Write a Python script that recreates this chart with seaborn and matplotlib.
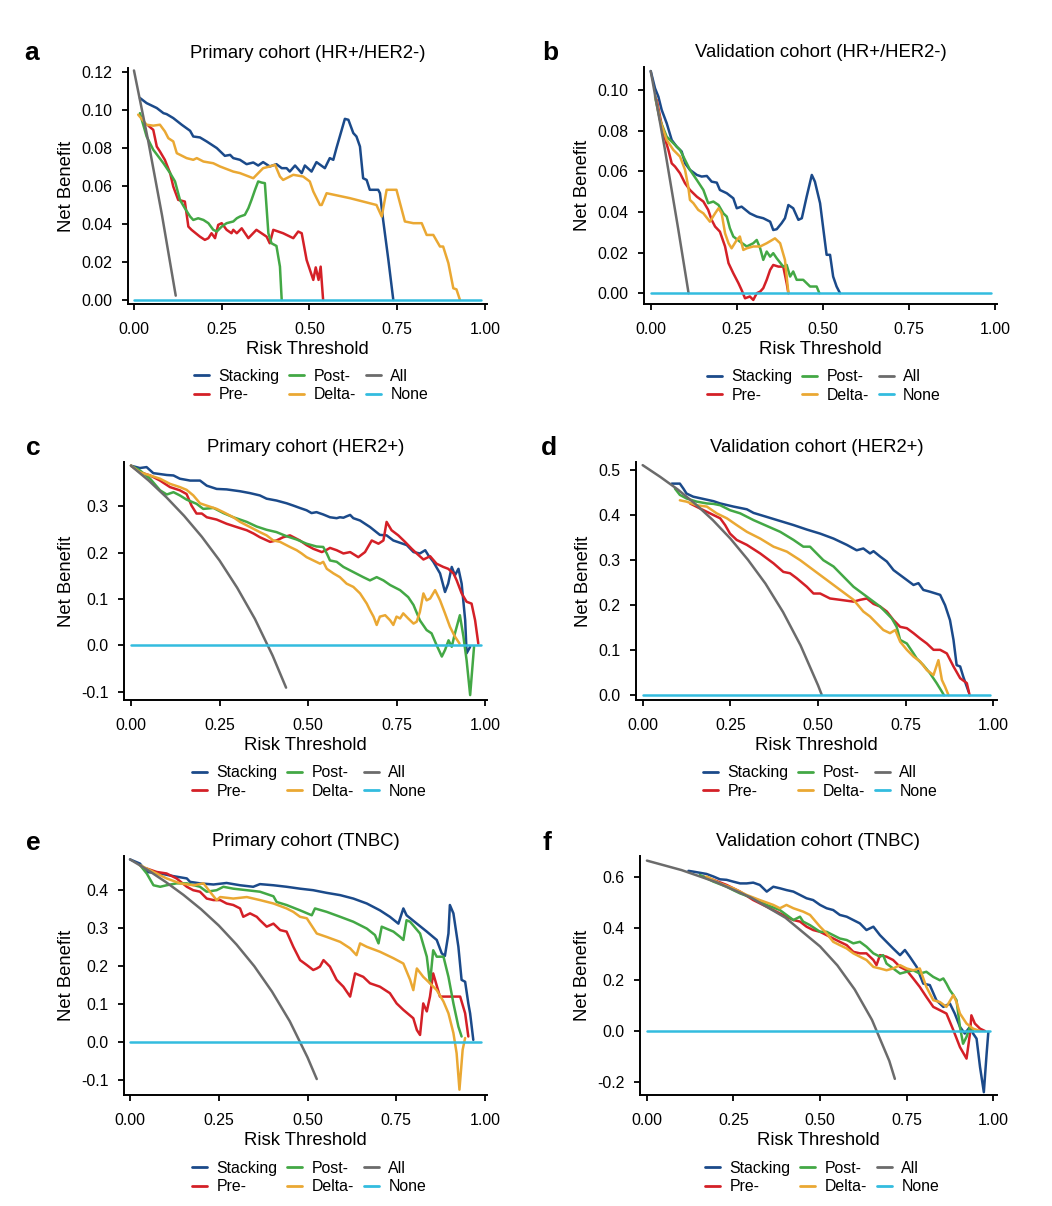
import numpy as np
import pandas as pd
import matplotlib
matplotlib.use("Agg")
import matplotlib.pyplot as plt
import seaborn as sns

sns.set_theme(style="ticks")
plt.rcParams['font.family'] = ['Liberation Sans', 'DejaVu Sans']
plt.rcParams['text.color'] = 'black'
plt.rcParams['axes.labelcolor'] = 'black'

models = ["Stacking", "Pre-", "Post-", "Delta-", "All", "None"]
colors = ["#1b4a8a", "#d42027", "#43a845", "#eaa833", "#6b6b6b", "#33bcdf"]

# ---------------- panel a : Primary cohort (HR+/HER2-) ----------------
a_stacking = [(0.017, 0.1065), (0.036, 0.1038), (0.065, 0.1012), (0.084, 0.0985), (0.093, 0.098),
              (0.112, 0.0959), (0.136, 0.0924), (0.160, 0.0892), (0.169, 0.0862), (0.188, 0.0857),
              (0.207, 0.0836), (0.236, 0.0801), (0.259, 0.076), (0.274, 0.0765), (0.283, 0.0748),
              (0.302, 0.0739), (0.321, 0.0716), (0.340, 0.0725), (0.354, 0.0709), (0.368, 0.0727),
              (0.387, 0.0704), (0.406, 0.0716), (0.421, 0.0695), (0.435, 0.0695), (0.444, 0.0677),
              (0.459, 0.0709), (0.478, 0.0669), (0.487, 0.0709), (0.506, 0.0677), (0.520, 0.0727),
              (0.544, 0.0695), (0.558, 0.0748), (0.568, 0.0739), (0.577, 0.0801), (0.592, 0.0897),
              (0.601, 0.0955), (0.611, 0.095), (0.625, 0.088), (0.634, 0.0862), (0.644, 0.0809),
              (0.653, 0.0642), (0.663, 0.0633), (0.672, 0.0581), (0.696, 0.0581), (0.701, 0.0563),
              (0.710, 0.0422), (0.725, 0.0211), (0.739, 0.0)]
a_pre = [(0.041, 0.0919), (0.055, 0.0897), (0.065, 0.0809), (0.074, 0.0783), (0.088, 0.0739),
         (0.103, 0.0669), (0.112, 0.0598), (0.126, 0.0528), (0.145, 0.0519), (0.155, 0.0387),
         (0.164, 0.037), (0.188, 0.0334), (0.202, 0.0317), (0.212, 0.0326), (0.221, 0.0352),
         (0.231, 0.0326), (0.240, 0.0396), (0.250, 0.0405), (0.264, 0.037), (0.278, 0.0352),
         (0.283, 0.037), (0.293, 0.0352), (0.307, 0.0378), (0.326, 0.0326), (0.349, 0.037),
         (0.378, 0.0334), (0.387, 0.0299), (0.397, 0.037), (0.425, 0.0352), (0.454, 0.0326),
         (0.468, 0.0361), (0.478, 0.0352), (0.492, 0.0211), (0.511, 0.0106), (0.518, 0.0172),
         (0.526, 0.0106), (0.532, 0.0176), (0.539, 0.0)]
a_post = [(0.017, 0.0985), (0.036, 0.0862), (0.055, 0.0792), (0.084, 0.0721), (0.103, 0.0669),
          (0.117, 0.0625), (0.131, 0.0528), (0.145, 0.0484), (0.160, 0.044), (0.169, 0.0422),
          (0.183, 0.0431), (0.198, 0.0422), (0.212, 0.0405), (0.226, 0.037), (0.236, 0.0361),
          (0.250, 0.0387), (0.264, 0.0405), (0.283, 0.0414), (0.293, 0.0431), (0.302, 0.044),
          (0.316, 0.0449), (0.326, 0.0484), (0.335, 0.0528), (0.345, 0.0581), (0.354, 0.0625),
          (0.364, 0.0619), (0.373, 0.0616), (0.383, 0.0352), (0.392, 0.0299), (0.406, 0.0285),
          (0.416, 0.0176), (0.421, 0.0)]
a_delta = [(0.012, 0.0977), (0.036, 0.0924), (0.055, 0.0919), (0.074, 0.0924), (0.088, 0.0889),
           (0.098, 0.0853), (0.112, 0.0836), (0.122, 0.0774), (0.150, 0.0748), (0.169, 0.0739),
           (0.179, 0.0748), (0.198, 0.073), (0.226, 0.0721), (0.245, 0.0704), (0.283, 0.0677),
           (0.302, 0.0669), (0.340, 0.0642), (0.368, 0.0695), (0.387, 0.0704), (0.402, 0.0713),
           (0.416, 0.0651), (0.425, 0.0633), (0.454, 0.066), (0.482, 0.0651), (0.501, 0.0625),
           (0.511, 0.0572), (0.530, 0.0501), (0.535, 0.0501), (0.549, 0.0563), (0.615, 0.0537),
           (0.691, 0.0501), (0.706, 0.044), (0.720, 0.0581), (0.748, 0.0581), (0.772, 0.0414),
           (0.796, 0.0405), (0.820, 0.0405), (0.834, 0.0343), (0.853, 0.0343), (0.872, 0.0282),
           (0.881, 0.0282), (0.896, 0.0194), (0.910, 0.0062), (0.919, 0.0056), (0.929, 0.0)]
a_all = [(0.0, 0.121), (0.04, 0.0844), (0.08, 0.0446), (0.119, 0.0023)]
a_none = [(0.0, 0.0), (0.99, 0.0)]

# ---------------- panel b : Validation cohort (HR+/HER2-) ----------------
b_stacking = [(0.0, 0.1093), (0.0126, 0.1008), (0.0223, 0.0967), (0.0319, 0.0902), (0.0465, 0.0836),
              (0.061, 0.0754), (0.0755, 0.0721), (0.09, 0.0697), (0.0997, 0.0639), (0.114, 0.0607),
              (0.134, 0.0582), (0.148, 0.0574), (0.163, 0.0577), (0.177, 0.0549), (0.192, 0.0544),
              (0.201, 0.0508), (0.221, 0.0492), (0.240, 0.0467), (0.250, 0.0418), (0.264, 0.0426),
              (0.288, 0.0393), (0.308, 0.0377), (0.327, 0.0369), (0.347, 0.0352), (0.356, 0.0311),
              (0.366, 0.0315), (0.380, 0.0344), (0.390, 0.0369), (0.400, 0.0434), (0.414, 0.0418),
              (0.429, 0.0361), (0.439, 0.0369), (0.453, 0.0475), (0.468, 0.0582), (0.477, 0.0549),
              (0.492, 0.0443), (0.503, 0.0295), (0.511, 0.0189), (0.521, 0.0189), (0.530, 0.0082),
              (0.540, 0.0033), (0.550, 0.0)]
b_pre = [(0.0174, 0.0951), (0.0368, 0.0787), (0.0513, 0.0705), (0.061, 0.0639), (0.0707, 0.0623),
         (0.0852, 0.059), (0.0997, 0.0541), (0.114, 0.0508), (0.134, 0.0475), (0.153, 0.0451),
         (0.167, 0.041), (0.177, 0.0361), (0.187, 0.0328), (0.201, 0.0303), (0.216, 0.023),
         (0.226, 0.0148), (0.240, 0.0098), (0.255, 0.0049), (0.264, 0.0016), (0.274, -0.0025),
         (0.288, -0.0016), (0.298, -0.0033), (0.308, 0.0), (0.318, 0.0008), (0.327, 0.0025),
         (0.337, 0.0066), (0.347, 0.0115), (0.356, 0.0139), (0.371, 0.0131), (0.385, 0.0131),
         (0.395, 0.0049), (0.400, 0.0)]
b_post = [(0.0126, 0.0967), (0.0271, 0.0852), (0.0465, 0.077), (0.0658, 0.0738), (0.0852, 0.0705),
          (0.0997, 0.0656), (0.114, 0.0607), (0.134, 0.0557), (0.153, 0.0508), (0.167, 0.0443),
          (0.182, 0.0451), (0.197, 0.0434), (0.211, 0.0393), (0.221, 0.0377), (0.230, 0.032),
          (0.240, 0.0279), (0.259, 0.0254), (0.279, 0.023), (0.298, 0.0246), (0.308, 0.0262),
          (0.318, 0.0221), (0.327, 0.0164), (0.337, 0.0205), (0.347, 0.018), (0.356, 0.0197),
          (0.366, 0.0172), (0.385, 0.0131), (0.395, 0.0139), (0.405, 0.0082), (0.414, 0.0107),
          (0.424, 0.0066), (0.443, 0.0066), (0.463, 0.0033), (0.482, 0.0033), (0.490, 0.0)]
b_delta = [(0.0126, 0.0975), (0.0271, 0.0852), (0.0465, 0.0754), (0.0658, 0.0705), (0.0852, 0.0672),
           (0.0997, 0.0607), (0.109, 0.0525), (0.114, 0.0459), (0.124, 0.0443), (0.138, 0.041),
           (0.153, 0.0393), (0.172, 0.0352), (0.187, 0.0393), (0.197, 0.0418), (0.206, 0.0393),
           (0.216, 0.0295), (0.226, 0.0246), (0.235, 0.0221), (0.250, 0.0262), (0.259, 0.0279),
           (0.269, 0.0213), (0.279, 0.0221), (0.298, 0.023), (0.318, 0.023), (0.337, 0.0246),
           (0.361, 0.027), (0.376, 0.0246), (0.390, 0.0164), (0.395, 0.0082), (0.400, 0.0)]
b_all = [(0.0, 0.1093), (0.04, 0.0719), (0.08, 0.0315), (0.110, 0.0)]
b_none = [(0.0, 0.0), (0.99, 0.0)]

# ---------------- panel c : Primary cohort (HER2+) ----------------
c_stacking = [(0.0, 0.387), (0.025, 0.382), (0.044, 0.384), (0.063, 0.371), (0.082, 0.369),
              (0.101, 0.367), (0.120, 0.366), (0.138, 0.359), (0.167, 0.355), (0.195, 0.355),
              (0.214, 0.344), (0.242, 0.337), (0.270, 0.336), (0.308, 0.332), (0.336, 0.328),
              (0.364, 0.323), (0.383, 0.316), (0.411, 0.312), (0.440, 0.306), (0.459, 0.301),
              (0.477, 0.296), (0.496, 0.291), (0.510, 0.285), (0.524, 0.287), (0.543, 0.282),
              (0.562, 0.276), (0.581, 0.274), (0.590, 0.276), (0.600, 0.275), (0.609, 0.278),
              (0.619, 0.281), (0.628, 0.274), (0.647, 0.269), (0.675, 0.255), (0.703, 0.238),
              (0.722, 0.237), (0.741, 0.226), (0.760, 0.221), (0.779, 0.216), (0.798, 0.201),
              (0.816, 0.198), (0.831, 0.205), (0.840, 0.194), (0.854, 0.180), (0.873, 0.155),
              (0.887, 0.115), (0.896, 0.133), (0.906, 0.169), (0.915, 0.151), (0.925, 0.165),
              (0.934, 0.133), (0.944, 0.054), (0.948, -0.017), (0.958, -0.003)]
c_pre = [(0.0, 0.387), (0.025, 0.373), (0.054, 0.366), (0.082, 0.355), (0.110, 0.341), (0.138, 0.334),
         (0.157, 0.326), (0.171, 0.301), (0.185, 0.284), (0.200, 0.284), (0.214, 0.276),
         (0.242, 0.271), (0.270, 0.262), (0.298, 0.255), (0.327, 0.248), (0.346, 0.241),
         (0.364, 0.233), (0.393, 0.223), (0.411, 0.226), (0.430, 0.233), (0.449, 0.237),
         (0.477, 0.226), (0.496, 0.216), (0.515, 0.208), (0.539, 0.201), (0.553, 0.206),
         (0.562, 0.210), (0.581, 0.205), (0.600, 0.198), (0.619, 0.201), (0.642, 0.190),
         (0.661, 0.201), (0.680, 0.226), (0.699, 0.219), (0.713, 0.226), (0.722, 0.266),
         (0.736, 0.248), (0.755, 0.237), (0.774, 0.223), (0.793, 0.208), (0.807, 0.198),
         (0.826, 0.185), (0.845, 0.192), (0.863, 0.176), (0.882, 0.169), (0.896, 0.165),
         (0.911, 0.155), (0.920, 0.140), (0.934, 0.112), (0.948, 0.094), (0.962, 0.090),
         (0.972, 0.054), (0.981, 0.004)]
c_post = [(0.0, 0.387), (0.025, 0.377), (0.054, 0.359), (0.082, 0.334), (0.101, 0.325), (0.120, 0.330),
          (0.138, 0.323), (0.157, 0.314), (0.185, 0.305), (0.204, 0.294), (0.233, 0.296),
          (0.261, 0.285), (0.289, 0.276), (0.327, 0.266), (0.355, 0.256), (0.383, 0.249),
          (0.411, 0.244), (0.440, 0.235), (0.468, 0.228), (0.496, 0.219), (0.524, 0.213),
          (0.543, 0.212), (0.553, 0.198), (0.562, 0.183), (0.581, 0.180), (0.600, 0.169),
          (0.628, 0.158), (0.656, 0.147), (0.675, 0.140), (0.694, 0.147), (0.713, 0.140),
          (0.732, 0.130), (0.760, 0.119), (0.783, 0.104), (0.798, 0.087), (0.816, 0.054),
          (0.835, 0.033), (0.849, 0.026), (0.863, 0.001), (0.878, -0.024), (0.887, -0.010),
          (0.897, 0.011), (0.906, -0.003), (0.915, 0.026), (0.929, 0.065), (0.939, 0.019),
          (0.948, -0.032), (0.958, -0.107), (0.969, -0.003)]
c_delta = [(0.0, 0.387), (0.025, 0.373), (0.054, 0.366), (0.082, 0.359), (0.110, 0.348), (0.138, 0.341),
           (0.157, 0.335), (0.176, 0.323), (0.195, 0.306), (0.214, 0.301), (0.242, 0.294),
           (0.261, 0.287), (0.289, 0.276), (0.308, 0.266), (0.336, 0.255), (0.364, 0.244),
           (0.383, 0.237), (0.402, 0.226), (0.421, 0.223), (0.449, 0.212), (0.468, 0.205),
           (0.482, 0.198), (0.496, 0.190), (0.515, 0.183), (0.534, 0.176), (0.543, 0.180),
           (0.553, 0.165), (0.572, 0.155), (0.590, 0.147), (0.609, 0.133), (0.628, 0.126),
           (0.647, 0.112), (0.666, 0.090), (0.675, 0.076), (0.685, 0.062), (0.694, 0.044),
           (0.703, 0.062), (0.718, 0.065), (0.732, 0.054), (0.741, 0.044), (0.750, 0.062),
           (0.760, 0.058), (0.769, 0.069), (0.783, 0.058), (0.798, 0.047), (0.807, 0.051),
           (0.816, 0.072), (0.826, 0.112), (0.835, 0.097), (0.845, 0.101), (0.859, 0.119),
           (0.873, 0.097), (0.887, 0.069), (0.901, 0.040), (0.915, 0.019), (0.928, 0.004)]
c_all = [(0.0, 0.387), (0.05, 0.355), (0.1, 0.319), (0.15, 0.279), (0.2, 0.234), (0.25, 0.183),
         (0.3, 0.124), (0.35, 0.057), (0.4, -0.022), (0.438, -0.091)]
c_none = [(0.0, 0.0), (0.99, 0.0)]

# ---------------- panel d : Validation cohort (HER2+) ----------------
d_stacking = [(0.083, 0.470), (0.106, 0.470), (0.116, 0.459), (0.125, 0.448), (0.144, 0.441),
              (0.173, 0.436), (0.202, 0.431), (0.221, 0.426), (0.259, 0.419), (0.297, 0.413),
              (0.316, 0.405), (0.354, 0.396), (0.392, 0.387), (0.430, 0.378), (0.468, 0.368),
              (0.506, 0.359), (0.544, 0.348), (0.582, 0.334), (0.610, 0.322), (0.629, 0.326),
              (0.648, 0.315), (0.658, 0.320), (0.677, 0.308), (0.696, 0.297), (0.715, 0.278),
              (0.734, 0.267), (0.753, 0.256), (0.772, 0.245), (0.786, 0.249), (0.800, 0.234),
              (0.819, 0.230), (0.848, 0.223), (0.862, 0.200), (0.876, 0.167), (0.886, 0.123),
              (0.895, 0.067), (0.905, 0.064), (0.914, 0.041), (0.929, 0.008)]
d_pre = [(0.135, 0.426), (0.163, 0.415), (0.192, 0.404), (0.221, 0.393), (0.235, 0.378),
         (0.249, 0.359), (0.268, 0.345), (0.297, 0.334), (0.335, 0.315), (0.373, 0.293),
         (0.401, 0.274), (0.420, 0.271), (0.439, 0.260), (0.468, 0.241), (0.487, 0.226),
         (0.506, 0.226), (0.534, 0.215), (0.563, 0.212), (0.601, 0.208), (0.620, 0.212),
         (0.639, 0.215), (0.658, 0.203), (0.677, 0.197), (0.696, 0.186), (0.715, 0.167),
         (0.734, 0.152), (0.753, 0.149), (0.772, 0.138), (0.791, 0.126), (0.810, 0.115),
         (0.829, 0.101), (0.848, 0.101), (0.867, 0.093), (0.886, 0.064), (0.905, 0.038),
         (0.924, 0.027), (0.932, 0.0)]
d_post = [(0.092, 0.459), (0.106, 0.445), (0.125, 0.437), (0.154, 0.430), (0.183, 0.426),
          (0.202, 0.425), (0.221, 0.422), (0.249, 0.411), (0.278, 0.404), (0.316, 0.389),
          (0.354, 0.376), (0.392, 0.363), (0.430, 0.345), (0.458, 0.330), (0.477, 0.330),
          (0.496, 0.315), (0.515, 0.300), (0.544, 0.286), (0.563, 0.271), (0.582, 0.256),
          (0.601, 0.241), (0.620, 0.230), (0.639, 0.219), (0.658, 0.208), (0.677, 0.197),
          (0.696, 0.182), (0.710, 0.171), (0.724, 0.152), (0.734, 0.123), (0.753, 0.115),
          (0.772, 0.093), (0.781, 0.082), (0.800, 0.067), (0.819, 0.049), (0.838, 0.027),
          (0.853, 0.008), (0.859, 0.0)]
d_delta = [(0.106, 0.433), (0.125, 0.430), (0.154, 0.422), (0.183, 0.419), (0.211, 0.404),
           (0.240, 0.393), (0.268, 0.378), (0.297, 0.363), (0.335, 0.348), (0.373, 0.330),
           (0.411, 0.319), (0.449, 0.300), (0.487, 0.278), (0.525, 0.256), (0.563, 0.234),
           (0.601, 0.212), (0.629, 0.186), (0.648, 0.175), (0.667, 0.160), (0.686, 0.145),
           (0.705, 0.138), (0.720, 0.145), (0.734, 0.119), (0.753, 0.101), (0.772, 0.086),
           (0.791, 0.075), (0.810, 0.056), (0.829, 0.045), (0.843, 0.078), (0.853, 0.034),
           (0.862, 0.019), (0.872, 0.0)]
d_all = [(0.0, 0.511), (0.05, 0.485), (0.1, 0.457), (0.15, 0.425), (0.2, 0.389), (0.25, 0.348),
         (0.3, 0.301), (0.35, 0.248), (0.4, 0.185), (0.45, 0.111), (0.5, 0.022), (0.51, 0.002)]
d_none = [(0.0, 0.0), (0.99, 0.0)]

# ---------------- panel e : Primary cohort (TNBC) ----------------
e_stacking = [(0.0, 0.481), (0.028, 0.470), (0.047, 0.448), (0.085, 0.444), (0.122, 0.437),
              (0.160, 0.431), (0.169, 0.422), (0.197, 0.418), (0.235, 0.415), (0.272, 0.419),
              (0.310, 0.413), (0.347, 0.409), (0.366, 0.416), (0.404, 0.413), (0.441, 0.409),
              (0.479, 0.404), (0.516, 0.400), (0.554, 0.393), (0.592, 0.387), (0.629, 0.378),
              (0.667, 0.365), (0.704, 0.347), (0.732, 0.330), (0.756, 0.312), (0.770, 0.352),
              (0.779, 0.334), (0.808, 0.312), (0.836, 0.291), (0.864, 0.269), (0.878, 0.234),
              (0.887, 0.227), (0.897, 0.286), (0.901, 0.361), (0.911, 0.339), (0.925, 0.251),
              (0.934, 0.164), (0.944, 0.159), (0.953, 0.102), (0.958, 0.076), (0.967, 0.006)]
e_pre = [(0.047, 0.457), (0.075, 0.448), (0.103, 0.444), (0.131, 0.431), (0.160, 0.409),
         (0.178, 0.400), (0.197, 0.396), (0.216, 0.378), (0.235, 0.374), (0.254, 0.374),
         (0.272, 0.365), (0.291, 0.361), (0.310, 0.352), (0.319, 0.330), (0.338, 0.339),
         (0.357, 0.330), (0.366, 0.321), (0.385, 0.304), (0.404, 0.312), (0.423, 0.295),
         (0.441, 0.291), (0.460, 0.251), (0.479, 0.216), (0.498, 0.203), (0.516, 0.190),
         (0.526, 0.194), (0.535, 0.199), (0.545, 0.216), (0.563, 0.199), (0.582, 0.164),
         (0.601, 0.146), (0.620, 0.120), (0.634, 0.181), (0.657, 0.172), (0.676, 0.155),
         (0.704, 0.146), (0.732, 0.129), (0.751, 0.102), (0.770, 0.085), (0.798, 0.063),
         (0.808, 0.032), (0.817, 0.019), (0.826, 0.102), (0.836, 0.081), (0.845, 0.120),
         (0.854, 0.181), (0.873, 0.120), (0.930, 0.120), (0.944, 0.076), (0.953, 0.015)]
e_post = [(0.028, 0.466), (0.047, 0.444), (0.066, 0.413), (0.085, 0.409), (0.103, 0.413),
          (0.131, 0.418), (0.160, 0.418), (0.197, 0.409), (0.216, 0.396), (0.244, 0.400),
          (0.263, 0.409), (0.291, 0.404), (0.329, 0.400), (0.366, 0.396), (0.404, 0.384),
          (0.413, 0.369), (0.441, 0.361), (0.479, 0.347), (0.512, 0.334), (0.521, 0.352),
          (0.554, 0.343), (0.592, 0.330), (0.629, 0.317), (0.667, 0.299), (0.690, 0.282),
          (0.700, 0.260), (0.709, 0.304), (0.742, 0.291), (0.761, 0.277), (0.770, 0.269),
          (0.779, 0.321), (0.789, 0.317), (0.817, 0.286), (0.836, 0.225), (0.845, 0.155),
          (0.854, 0.242), (0.864, 0.225), (0.883, 0.225), (0.897, 0.172), (0.911, 0.102),
          (0.925, 0.041), (0.934, 0.015)]
e_delta = [(0.028, 0.466), (0.066, 0.448), (0.103, 0.431), (0.141, 0.418), (0.178, 0.413),
           (0.207, 0.418), (0.225, 0.396), (0.244, 0.374), (0.254, 0.382), (0.291, 0.378),
           (0.329, 0.382), (0.366, 0.374), (0.404, 0.365), (0.441, 0.352), (0.460, 0.343),
           (0.479, 0.330), (0.498, 0.326), (0.526, 0.286), (0.554, 0.277), (0.592, 0.264),
           (0.620, 0.247), (0.638, 0.229), (0.648, 0.260), (0.667, 0.251), (0.704, 0.238),
           (0.742, 0.221), (0.770, 0.207), (0.789, 0.164), (0.798, 0.137), (0.808, 0.194),
           (0.826, 0.172), (0.845, 0.155), (0.864, 0.137), (0.883, 0.107), (0.897, 0.076),
           (0.911, 0.024), (0.920, -0.029), (0.928, -0.125), (0.937, -0.020), (0.944, 0.011)]
e_all = [(0.0, 0.481), (0.05, 0.453), (0.1, 0.422), (0.15, 0.388), (0.2, 0.350), (0.25, 0.307),
         (0.3, 0.257), (0.35, 0.200), (0.4, 0.133), (0.45, 0.055), (0.5, -0.040), (0.526, -0.097)]
e_none = [(0.0, 0.0), (0.99, 0.0)]

# ---------------- panel f : Validation cohort (TNBC) ----------------
f_stacking = [(0.120, 0.625), (0.134, 0.622), (0.172, 0.613), (0.192, 0.603), (0.211, 0.592), (0.230, 0.590),
              (0.249, 0.583), (0.269, 0.576), (0.288, 0.576), (0.307, 0.579), (0.326, 0.570),
              (0.346, 0.544), (0.365, 0.563), (0.384, 0.557), (0.403, 0.550), (0.423, 0.544),
              (0.442, 0.531), (0.461, 0.518), (0.480, 0.511), (0.500, 0.492), (0.519, 0.479),
              (0.538, 0.472), (0.557, 0.453), (0.577, 0.446), (0.596, 0.433), (0.615, 0.420),
              (0.634, 0.394), (0.654, 0.407), (0.673, 0.374), (0.692, 0.348), (0.711, 0.322),
              (0.731, 0.296), (0.745, 0.316), (0.759, 0.290), (0.779, 0.250), (0.798, 0.185),
              (0.817, 0.179), (0.836, 0.120), (0.856, 0.094), (0.875, 0.107), (0.889, 0.068),
              (0.904, 0.016), (0.918, -0.010), (0.933, 0.016), (0.942, -0.010), (0.952, -0.030),
              (0.962, -0.141), (0.973, -0.239), (0.981, -0.089), (0.986, -0.004)]
f_pre = [(0.163, 0.603), (0.192, 0.590), (0.230, 0.570), (0.269, 0.544), (0.307, 0.511),
         (0.346, 0.485), (0.384, 0.459), (0.423, 0.433), (0.442, 0.427), (0.461, 0.407),
         (0.480, 0.394), (0.500, 0.387), (0.519, 0.374), (0.538, 0.361), (0.557, 0.348),
         (0.577, 0.335), (0.596, 0.309), (0.615, 0.303), (0.634, 0.303), (0.654, 0.277),
         (0.663, 0.257), (0.673, 0.296), (0.692, 0.290), (0.711, 0.277), (0.731, 0.250),
         (0.750, 0.237), (0.769, 0.205), (0.788, 0.172), (0.807, 0.133), (0.827, 0.094),
         (0.846, 0.081), (0.865, 0.068), (0.885, 0.003), (0.904, -0.063), (0.923, -0.108),
         (0.933, -0.010), (0.937, 0.061), (0.947, 0.029), (0.962, 0.009), (0.976, 0.0)]
f_post = [(0.153, 0.609), (0.192, 0.583), (0.230, 0.563), (0.249, 0.550), (0.269, 0.537),
          (0.307, 0.518), (0.346, 0.492), (0.384, 0.472), (0.403, 0.453), (0.423, 0.433),
          (0.442, 0.446), (0.451, 0.427), (0.471, 0.413), (0.500, 0.387), (0.519, 0.387),
          (0.538, 0.374), (0.557, 0.361), (0.577, 0.355), (0.596, 0.342), (0.615, 0.348),
          (0.634, 0.329), (0.654, 0.303), (0.673, 0.290), (0.682, 0.296), (0.692, 0.263),
          (0.711, 0.244), (0.731, 0.224), (0.750, 0.231), (0.769, 0.237), (0.788, 0.224),
          (0.807, 0.231), (0.827, 0.211), (0.846, 0.198), (0.856, 0.205), (0.865, 0.185),
          (0.875, 0.159), (0.885, 0.140), (0.894, 0.120), (0.904, 0.016), (0.913, -0.050),
          (0.923, -0.023), (0.933, 0.016), (0.942, 0.003)]
f_delta = [(0.172, 0.603), (0.211, 0.576), (0.249, 0.557), (0.288, 0.531), (0.326, 0.511),
           (0.365, 0.492), (0.384, 0.479), (0.403, 0.492), (0.423, 0.479), (0.451, 0.466),
           (0.471, 0.453), (0.500, 0.407), (0.519, 0.381), (0.538, 0.348), (0.557, 0.335),
           (0.577, 0.322), (0.596, 0.303), (0.615, 0.290), (0.634, 0.277), (0.654, 0.250),
           (0.673, 0.244), (0.692, 0.237), (0.711, 0.244), (0.731, 0.257), (0.750, 0.244),
           (0.769, 0.237), (0.788, 0.244), (0.807, 0.172), (0.827, 0.120), (0.846, 0.113),
           (0.865, 0.094), (0.885, 0.140), (0.894, 0.113), (0.904, 0.068), (0.923, 0.029),
           (0.942, 0.009), (0.962, 0.0)]
f_all = [(0.0, 0.665), (0.1, 0.628), (0.2, 0.581), (0.3, 0.521), (0.4, 0.442), (0.5, 0.330),
         (0.55, 0.256), (0.6, 0.162), (0.65, 0.043), (0.7, -0.117), (0.716, -0.187)]
f_none = [(0.0, 0.0), (0.99, 0.0)]

panel_titles = ["Primary cohort (HR+/HER2-)", "Validation cohort (HR+/HER2-)",
                "Primary cohort (HER2+)", "Validation cohort (HER2+)",
                "Primary cohort (TNBC)", "Validation cohort (TNBC)"]
panel_letters = ["a", "b", "c", "d", "e", "f"]
panel_series = [
    [a_stacking, a_pre, a_post, a_delta, a_all, a_none],
    [b_stacking, b_pre, b_post, b_delta, b_all, b_none],
    [c_stacking, c_pre, c_post, c_delta, c_all, c_none],
    [d_stacking, d_pre, d_post, d_delta, d_all, d_none],
    [e_stacking, e_pre, e_post, e_delta, e_all, e_none],
    [f_stacking, f_pre, f_post, f_delta, f_all, f_none],
]
y_ticks = [
    [0.00, 0.02, 0.04, 0.06, 0.08, 0.10, 0.12],
    [0.00, 0.02, 0.04, 0.06, 0.08, 0.10],
    [-0.1, 0.0, 0.1, 0.2, 0.3],
    [0.0, 0.1, 0.2, 0.3, 0.4, 0.5],
    [-0.1, 0.0, 0.1, 0.2, 0.3, 0.4],
    [-0.2, 0.0, 0.2, 0.4, 0.6],
]
y_fmt = ["%.2f", "%.2f", "%.1f", "%.1f", "%.1f", "%.1f"]
x_ticks = [0.0, 0.25, 0.5, 0.75, 1.0]

# layout (pixel boxes: left, right, top, bottom) and axis limits
W, H = 1052, 1206
boxes = [(128, 487, 68, 304), (644, 997, 67, 304),
         (124, 487, 462, 700), (636, 997, 462, 700),
         (124, 487, 856, 1095), (640, 997, 856, 1095)]
xlims = [(-0.017, 1.006), (-0.0195, 1.006), (-0.0198, 1.0056),
         (-0.019, 1.010), (-0.017, 1.0056), (-0.020, 1.011)]
ylims = [(-0.0021, 0.1223), (-0.0053, 0.1113), (-0.1176, 0.395),
         (-0.0104, 0.518), (-0.139, 0.49), (-0.25, 0.683)]
letter_pos = [(32, 53), (550, 53), (33, 448), (549, 448), (33, 843), (547, 843)]

pal = dict(zip(models, colors))

fig = plt.figure(figsize=(W / 100, H / 100), dpi=100)
fig.patch.set_facecolor("white")

for i in range(6):
    l, r, t, b = boxes[i]
    ax = fig.add_axes([l / W, 1 - b / H, (r - l) / W, (b - t) / H])
    rows = []
    for name, pts in zip(models, panel_series[i]):
        for x, y in pts:
            rows.append({"threshold": x, "net_benefit": y, "model": name})
    df = pd.DataFrame(rows)
    sns.lineplot(data=df, x="threshold", y="net_benefit", hue="model",
                 hue_order=models, palette=pal, estimator=None, sort=False,
                 linewidth=1.8, ax=ax)
    ax.set_xlim(*xlims[i])
    ax.set_ylim(*ylims[i])
    ax.set_xticks(x_ticks)
    ax.set_xticklabels(["0.00", "0.25", "0.50", "0.75", "1.00"])
    ax.set_yticks(y_ticks[i])
    ax.set_yticklabels([y_fmt[i] % v for v in y_ticks[i]])
    ax.tick_params(axis="both", direction="out", length=4.5, width=1.3,
                   labelsize=11.4, colors="black")
    ax.tick_params(axis="x", pad=8.5)
    ax.tick_params(axis="y", pad=6.5)
    for s in ["left", "bottom"]:
        ax.spines[s].set_linewidth(1.4)
        ax.spines[s].set_color("black")
    for s in ["top", "right"]:
        ax.spines[s].set_visible(False)
    ax.set_facecolor("white")
    ax.set_xlabel("Risk Threshold", fontsize=13.3, labelpad=3)
    ax.set_ylabel("Net Benefit", fontsize=13.3, labelpad=4.5)
    ax.set_title(panel_titles[i], fontsize=13.3, pad=7)

    handles, labels = ax.get_legend_handles_labels()
    ax.legend(handles, labels, ncol=3, loc="upper center", bbox_to_anchor=(0.51, -0.255),
              frameon=False, fontsize=11.4, handlelength=0.95, handletextpad=0.6,
              columnspacing=0.6, labelspacing=0.22, borderaxespad=0, borderpad=0.3)
    for lh in ax.get_legend().get_lines():
        lh.set_linewidth(2.0)

    lx, ly = letter_pos[i]
    fig.text(lx / W, 1 - ly / H, panel_letters[i], fontsize=19, fontweight="bold",
             ha="center", va="center")

fig.savefig("out.png", dpi=100)
